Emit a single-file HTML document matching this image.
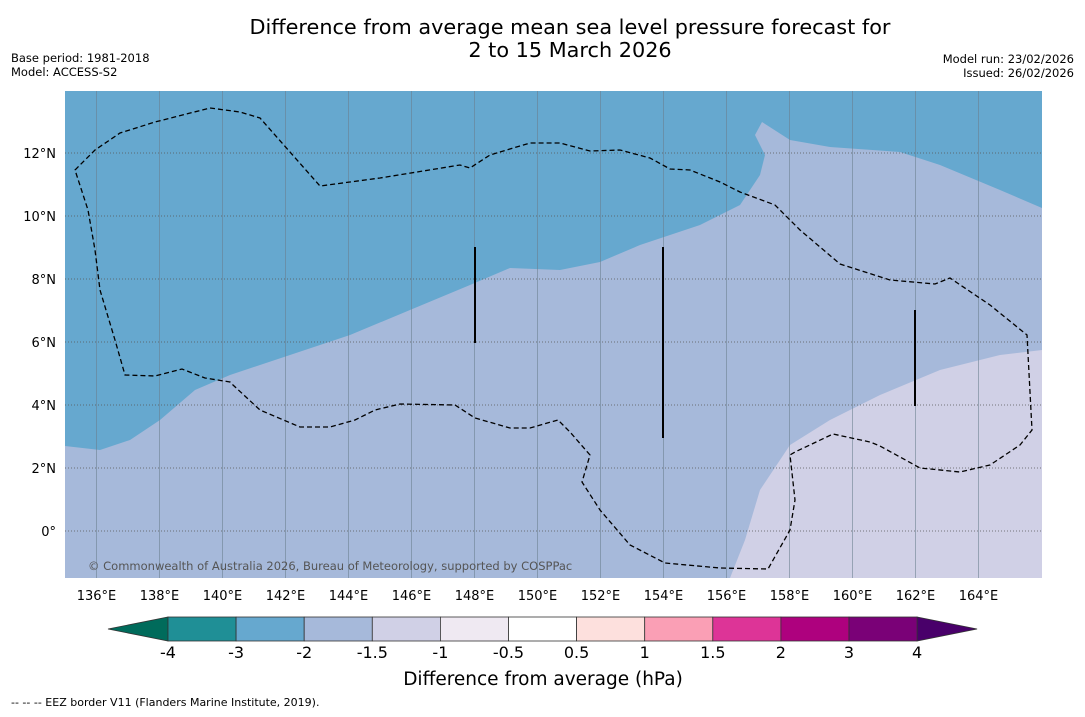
<!DOCTYPE html>
<html><head><meta charset="utf-8"><style>
body{margin:0;background:#fff;width:1085px;height:713px;overflow:hidden;font-family:"DejaVu Sans","Liberation Sans",sans-serif;}
svg text{font-family:"DejaVu Sans","Liberation Sans",sans-serif;}
</style></head><body>
<svg id="c" width="1085" height="713">
<text x="570" y="34" font-size="20.8" text-anchor="middle">Difference from average mean sea level pressure forecast for</text>
<text x="570" y="57" font-size="20.8" text-anchor="middle">2 to 15 March 2026</text>
<text x="11" y="62" font-size="11.5">Base period: 1981-2018</text>
<text x="11" y="76" font-size="11.5">Model: ACCESS-S2</text>
<text x="1074" y="63" font-size="11.5" text-anchor="end">Model run: 23/02/2026</text>
<text x="1074" y="77" font-size="11.5" text-anchor="end">Issued: 26/02/2026</text>
<defs><clipPath id="mc"><rect x="65" y="91" width="977" height="487"/></clipPath></defs>
<g clip-path="url(#mc)">
<rect x="65" y="91" width="977" height="487" fill="#a6b9da"/>
<path fill="#66a8cf" d="M65,446 L100,450 130,440 160,420 195,390 230,375 290,355 350,335 410,310 470,285 510,268 560,270 600,262 640,245 700,225 740,205 760,175 765,155 755,135 762,122 790,140 830,147 900,152 940,165 1000,190 1042,208 1042,91 65,91Z"/>
<path fill="#d0d0e6" d="M730,578 L745,540 760,490 790,445 830,420 880,395 940,370 1000,355 1042,350 1042,578Z"/>
<g id="grid"></g>
<path fill="none" stroke="#000" stroke-width="1.3" stroke-dasharray="5,3" d="M75,170 L95,150 120,133 155,122 210,108 240,112 260,118 320,186 380,178 460,165 470,168 490,155 530,143 560,143 590,151 620,150 650,158 670,169 690,170 720,182 740,192 775,205 800,230 840,264 890,280 935,284 950,278 990,305 1027,335 1032,430 1020,445 990,465 960,472 920,468 880,446 870,442 833,434 795,452 790,455 795,500 790,530 768,569 720,568 665,563 630,545 600,510 582,482 590,455 570,432 558,420 530,428 510,428 475,418 455,405 400,404 375,410 355,420 330,427 300,427 260,410 233,385 230,382 205,378 182,369 155,376 125,375 115,340 100,290 95,250 88,210 75,170Z"/>
<g stroke="#000" stroke-width="2">
<line x1="475" y1="247" x2="475" y2="343"/><line x1="663" y1="247" x2="663" y2="438"/><line x1="915" y1="310" x2="915" y2="406"/></g>
<text x="88" y="570" font-size="11.5" fill="#555">© Commonwealth of Australia 2026, Bureau of Meteorology, supported by COSPPac</text>
</g>
<g id="axes"></g>
<g id="cbar"></g>
<text x="543" y="685" font-size="18.5" text-anchor="middle">Difference from average (hPa)</text>
<text x="11" y="706" font-size="11">--  --  -- EEZ border V11 (Flanders Marine Institute, 2019).</text>
</svg>
<script>
const lonTicks=[136,138,140,142,144,146,148,150,152,154,156,158,160,162,164];
const latTicks=[0,2,4,6,8,10,12];
const cbLevels=[-4,-3,-2,-1.5,-1,-0.5,0.5,1,1.5,2,3,4];
const cbColors=["#1f8f96","#66a8cf","#a6b9da","#d0d0e6","#efe9f2","#ffffff","#fde0dd","#fa9fb5","#dd3497","#ae017e","#7a0177"];
const NS="http://www.w3.org/2000/svg";
const X=lon=>65+(lon-135)*31.5, Y=lat=>531-lat*31.5;
function mk(t,a,p){const e=document.createElementNS(NS,t);for(const k in a)e.setAttribute(k,a[k]);p.appendChild(e);return e;}
const g=document.getElementById('grid'),ax=document.getElementById('axes'),cb=document.getElementById('cbar');
lonTicks.forEach(l=>{const ln=mk('line',{x1:X(l),x2:X(l),y1:91,y2:578,stroke:'#6b7f8f','stroke-width':0.8,opacity:0.7},g);


const t=mk('text',{x:X(l),y:600,'font-size':13,'text-anchor':'middle'},ax);t.textContent=l+'°E';

});
latTicks.forEach(l=>{const ln=mk('line',{x1:65,x2:1042,y1:Y(l),y2:Y(l),stroke:'#555','stroke-width':0.8,'stroke-dasharray':'1,2'},g);


const t=mk('text',{x:56,y:Y(l)+5,'font-size':13,'text-anchor':'end'},ax);t.textContent=l===0?'0°':l+'°N';

});
const bx0=168,bw=68.1,by=617,bh=24;
const lt=mk('polygon',{points:`108,629 ${bx0},${by} ${bx0},${by+bh}`,fill:'#006b5b',stroke:'#333','stroke-width':0.8},cb);


const xe=bx0+bw*cbColors.length;
const rt=mk('polygon',{points:`${xe},${by} ${xe+60},629 ${xe},${by+bh}`,fill:'#49006a',stroke:'#333','stroke-width':0.8},cb);


cbColors.forEach((c,i)=>{const r=mk('rect',{x:bx0+i*bw,y:by,width:bw,height:bh,fill:c,stroke:'#333','stroke-width':0.8},cb);

});
cbLevels.forEach((v,i)=>{const t=mk('text',{x:bx0+i*bw,y:658,'font-size':16,'text-anchor':'middle'},cb);t.textContent=v;

});
</script>
</body></html>
